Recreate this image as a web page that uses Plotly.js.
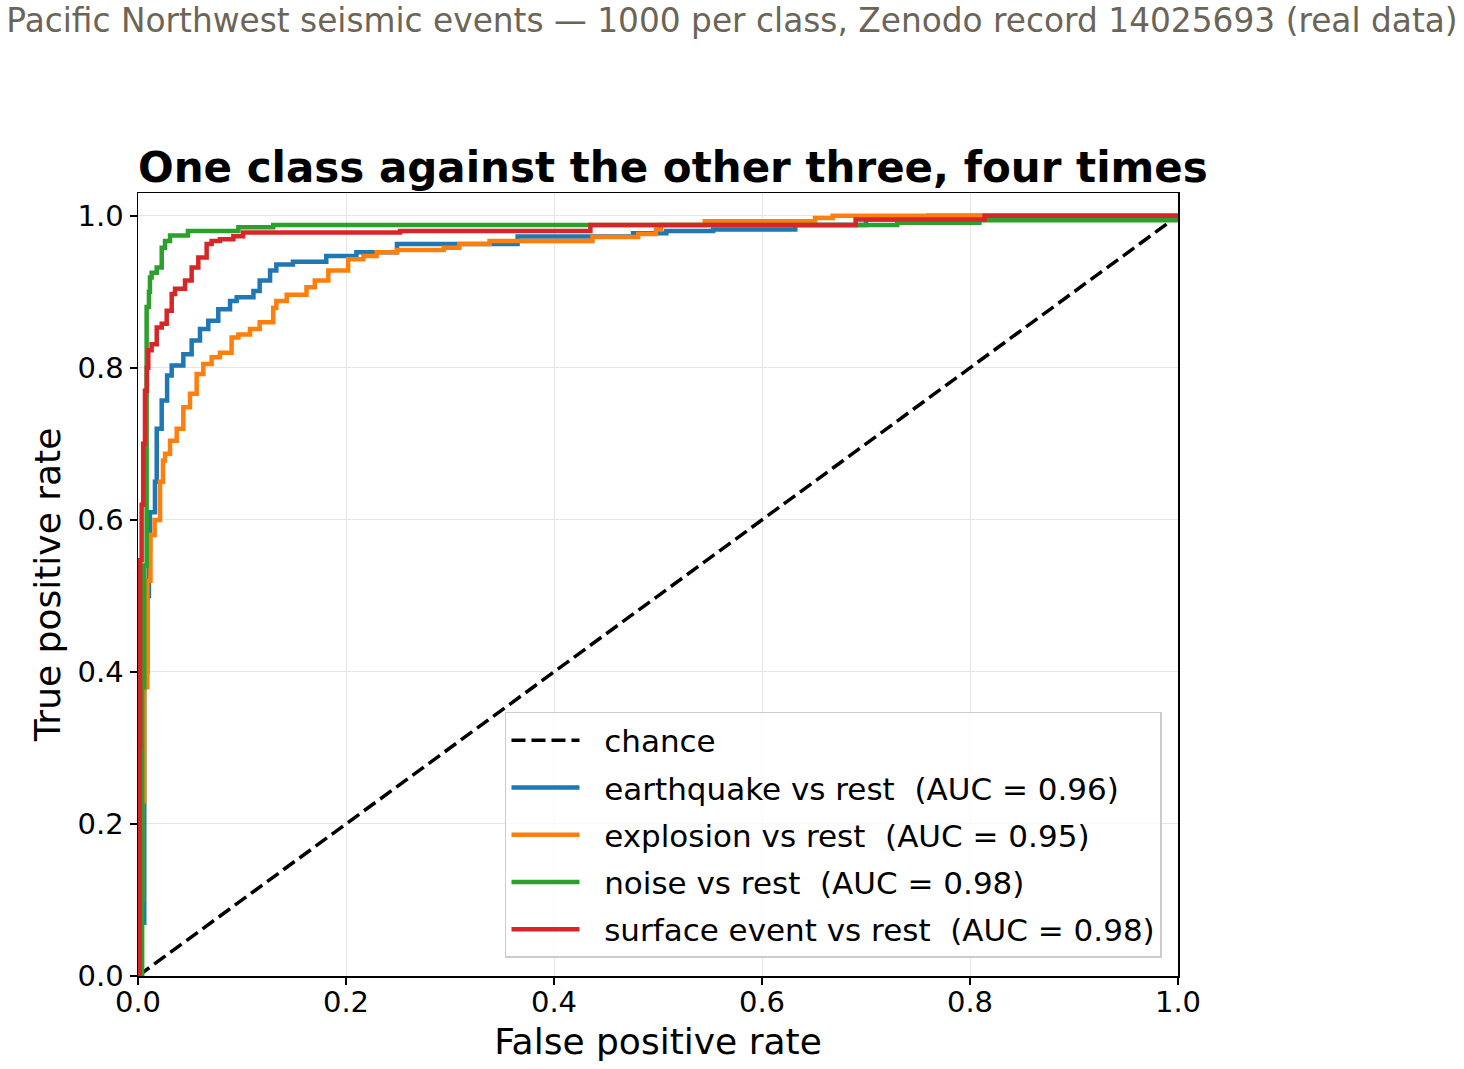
<!DOCTYPE html>
<html>
<head>
<meta charset="utf-8">
<script src="https://cdn.plot.ly/plotly-3.0.1.min.js"></script>
<style>
  body { margin: 0; background: #fff; }
  #roc { width: 1464px; height: 1069px; }
</style>
</head>
<body>
<div id="roc"></div>
<script>
// ROC step points: at each fpr the curve rises to the tpr
let fpr_earthquake = [0, 0.003, 0.006, 0.009, 0.0105, 0.0115, 0.0163, 0.018, 0.0228, 0.028,
    0.0324, 0.0436, 0.0516, 0.0596, 0.0676, 0.0772, 0.0885, 0.0949, 0.111, 0.117,
    0.127, 0.133, 0.149, 0.181, 0.210, 0.249, 0.365, 0.476, 0.508, 0.553,
    0.632, 0.70, 0.76, 1.0];
let tpr_earthquake = [0, 0.07, 0.40, 0.50, 0.56, 0.61, 0.65, 0.72, 0.757, 0.79,
    0.803, 0.818, 0.836, 0.851, 0.862, 0.877, 0.888, 0.893, 0.901, 0.915,
    0.928, 0.936, 0.9395, 0.947, 0.952, 0.963, 0.9728, 0.977, 0.980, 0.982,
    0.988, 0.995, 1.0, 1.0];

let fpr_explosion = [0, 0.003, 0.004, 0.006, 0.009, 0.012, 0.016, 0.0212, 0.024, 0.026,
    0.0308, 0.0372, 0.0436, 0.05, 0.0564, 0.0628, 0.0708, 0.0788, 0.09, 0.0965,
    0.1077, 0.117, 0.130, 0.133, 0.143, 0.162, 0.170, 0.183, 0.202, 0.2167,
    0.2295, 0.249, 0.294, 0.309, 0.338, 0.437, 0.481, 0.498, 0.503, 0.545,
    0.651, 0.668, 1.0];
let tpr_explosion = [0, 0.10, 0.23, 0.38, 0.52, 0.58, 0.60, 0.65, 0.678, 0.687,
    0.704, 0.72, 0.748, 0.766, 0.792, 0.805, 0.814, 0.820, 0.840, 0.844,
    0.851, 0.860, 0.879, 0.888, 0.896, 0.906, 0.915, 0.928, 0.943, 0.947,
    0.952, 0.955, 0.958, 0.963, 0.967, 0.972, 0.976, 0.982, 0.988, 0.993,
    0.997, 1.0, 1.0];

let fpr_noise = [0, 0.004, 0.006, 0.0083, 0.0105, 0.0115, 0.0131, 0.018, 0.0228, 0.026,
    0.0308, 0.048, 0.0965, 0.130, 0.730, 0.809, 1.0];
let tpr_noise = [0, 0.38, 0.54, 0.88, 0.90, 0.919, 0.925, 0.932, 0.958, 0.967,
    0.974, 0.980, 0.985, 0.988, 0.991, 0.994, 1.0];

let fpr_surface = [0, 0.0015, 0.002, 0.0035, 0.005, 0.0067, 0.0085, 0.0099, 0.0131, 0.018,
    0.0228, 0.0276, 0.0324, 0.0356, 0.0452, 0.0516, 0.058, 0.066, 0.0708, 0.0788,
    0.0917, 0.101, 0.252, 0.435, 0.690, 0.814, 1.0];
let tpr_surface = [0, 0.30, 0.547, 0.62, 0.70, 0.77, 0.80, 0.823, 0.831, 0.853,
    0.858, 0.875, 0.897, 0.904, 0.915, 0.932, 0.945, 0.963, 0.967, 0.969,
    0.973, 0.978, 0.980, 0.988, 0.995, 1.0, 1.0];

let chance_x = [0, 1];
let chance_y = [0, 1];

let class_names = ['earthquake', 'explosion', 'noise', 'surface event'];
let class_auc = ['0.96', '0.95', '0.98', '0.98'];
let class_colors = ['#1f77b4', '#ff7f0e', '#2ca02c', '#d62728'];

let ticks = [0, 0.2, 0.4, 0.6, 0.8, 1.0];
let tick_text = ['0.0', '0.2', '0.4', '0.6', '0.8', '1.0'];

let curves_x = [fpr_earthquake, fpr_explosion, fpr_noise, fpr_surface];
let curves_y = [tpr_earthquake, tpr_explosion, tpr_noise, tpr_surface];

let font_family = 'DejaVu Sans, sans-serif';
// a little room between the legend line and its text, as matplotlib leaves
let legend_pad = '\u00a0\u00a0';

let data = [{
    x: chance_x,
    y: chance_y,
    mode: 'lines',
    name: legend_pad + 'chance',
    legendgroup: 'chance',
    line: { color: 'black', width: 3.5, dash: '14px,6px' }
}];

for (let i = 0; i < class_names.length; i++) {
    data.push({
        x: curves_x[i],
        y: curves_y[i],
        mode: 'lines',
        name: legend_pad + class_names[i] + ' vs rest\u00a0\u00a0(AUC = ' + class_auc[i] + ')',
        legendgroup: class_names[i],
        line: { color: class_colors[i], width: 4.5, shape: 'hv' }
    });
}

let axis_common = {
    showline: true,
    mirror: true,
    linecolor: 'black',
    linewidth: 1.5,
    ticks: 'outside',
    ticklen: 7,
    tickwidth: 1.5,
    tickcolor: 'black',
    showgrid: true,
    gridcolor: '#e6e6e6',
    gridwidth: 1,
    zeroline: false,
    tickvals: ticks,
    ticktext: tick_text,
    tickfont: { family: font_family, size: 29, color: 'black' }
};

let layout = {
    width: 1464,
    height: 1069,
    margin: { l: 138, r: 286, t: 193, b: 93 },
    paper_bgcolor: 'white',
    plot_bgcolor: 'white',
    font: { family: font_family, color: 'black' },
    showlegend: true,
    title: {
        text: 'Pacific Northwest seismic events \u2014 1000 per class, Zenodo record 14025693 (real data)',
        font: { family: font_family, size: 32.8, color: '#6b6558' },
        x: 0.5,
        xref: 'container',
        xanchor: 'center',
        y: 0.981,
        yref: 'container',
        yanchor: 'middle'
    },
    xaxis: Object.assign({}, axis_common, {
        range: [0, 1],
        ticklabelstandoff: -7,
        title: { text: 'False positive rate', font: { family: font_family, size: 36 }, standoff: 10 }
    }),
    yaxis: Object.assign({}, axis_common, {
        range: [0, 1.03],
        title: { text: 'True positive rate', font: { family: font_family, size: 36 }, standoff: 6 }
    }),
    legend: {
        x: 0.9846,
        xanchor: 'right',
        y: 0.023,
        yanchor: 'bottom',
        bgcolor: 'rgba(255,255,255,0.8)',
        bordercolor: '#cccccc',
        borderwidth: 1.5,
        font: { family: font_family, size: 31, color: 'black' },
        traceorder: 'grouped',
        tracegroupgap: 4,
        itemwidth: 68
    },
    annotations: [{
        text: '<b>One class against the other three, four times</b>',
        font: { family: font_family, size: 42, color: 'black' },
        xref: 'paper',
        yref: 'paper',
        x: 0.514,
        xanchor: 'center',
        y: 1.033,
        yanchor: 'middle',
        showarrow: false
    }]
};

Plotly.newPlot('roc', data, layout, { displayModeBar: false, staticPlot: true });
</script>
</body>
</html>
